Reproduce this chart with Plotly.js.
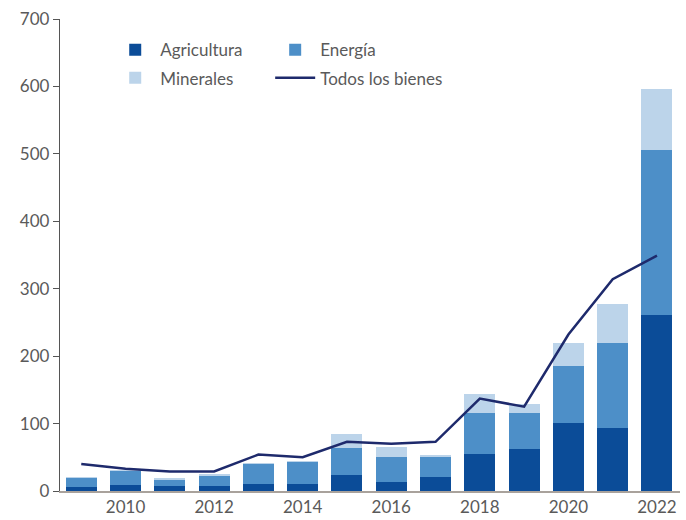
<!DOCTYPE html>
<html><head><meta charset="utf-8">
<script src="https://cdn.plot.ly/plotly-3.0.1.min.js"></script>
<style>html,body{margin:0;padding:0;background:#fff;}#chart{width:686px;height:520px;}</style>
</head><body><div id="chart"></div>
<script>
const years = [2009,2010,2011,2012,2013,2014,2015,2016,2017,2018,2019,2020,2021,2022];
const agricultura = [6,9,8,7,10,10,24,13,21,55,62,101,93,261];
const energia     = [13,20,9,15,30,33,40,37,29,61,54,85,127,244];
const minerales   = [2,2,2,3,2,2,21,15,3,28,13,33,57,91];
const todos       = [40,33,29,29,54,50,73,70,73,137,125,232,314,349];
const xTicks = [2010,2012,2014,2016,2018,2020,2022];

const fnt = {family: "Lato, 'Open Sans', sans-serif", size: 17, color: "#5a5a5a"};
const traces = [
  {type:'bar', name:'Agricultura', x:years, y:agricultura, marker:{color:'#0b4c98'}, legend:'legend', legendgroup:'a'},
  {type:'bar', name:'Energía', x:years, y:energia, marker:{color:'#4d8fc8'}, legend:'legend2', legendgroup:'e'},
  {type:'bar', name:'Minerales', x:years, y:minerales, marker:{color:'#bcd4ea'}, legend:'legend', legendgroup:'m'},
  {type:'scatter', mode:'lines', name:'Todos los bienes', x:years, y:todos, line:{color:'#1e2a6c', width:2.5}, legend:'legend2', legendgroup:'t'}
];
const leg = {orientation:'v', y:0.972, xanchor:'left', yanchor:'top', traceorder:'grouped', tracegroupgap:3, itemwidth:40, font:fnt, bgcolor:'rgba(0,0,0,0)'};
const layout = {
  width:686, height:520,
  margin:{l:60, r:6, t:19, b:29},
  paper_bgcolor:'#fff', plot_bgcolor:'#fff',
  barmode:'stack', bargap:0.3,
  font: fnt,
  xaxis:{range:[2008.52,2022.52], tickvals:xTicks, ticktext:xTicks.map(String), showgrid:false, zeroline:false,
         showline:true, linecolor:'#a9a29c', linewidth:1.5, ticks:'', tickfont:fnt, fixedrange:true},
  yaxis:{range:[0,700], dtick:100, showgrid:false, zeroline:false, showline:true, linecolor:'#555', linewidth:1.2,
         ticks:'outside', ticklen:6, tickcolor:'#555', tickfont:fnt, fixedrange:true},
  legend: Object.assign({}, leg, {x:0.081}),
  legend2: Object.assign({}, leg, {x:0.339}),
  showlegend:true
};
Plotly.newPlot('chart', traces, layout, {staticPlot:true});
</script></body></html>
